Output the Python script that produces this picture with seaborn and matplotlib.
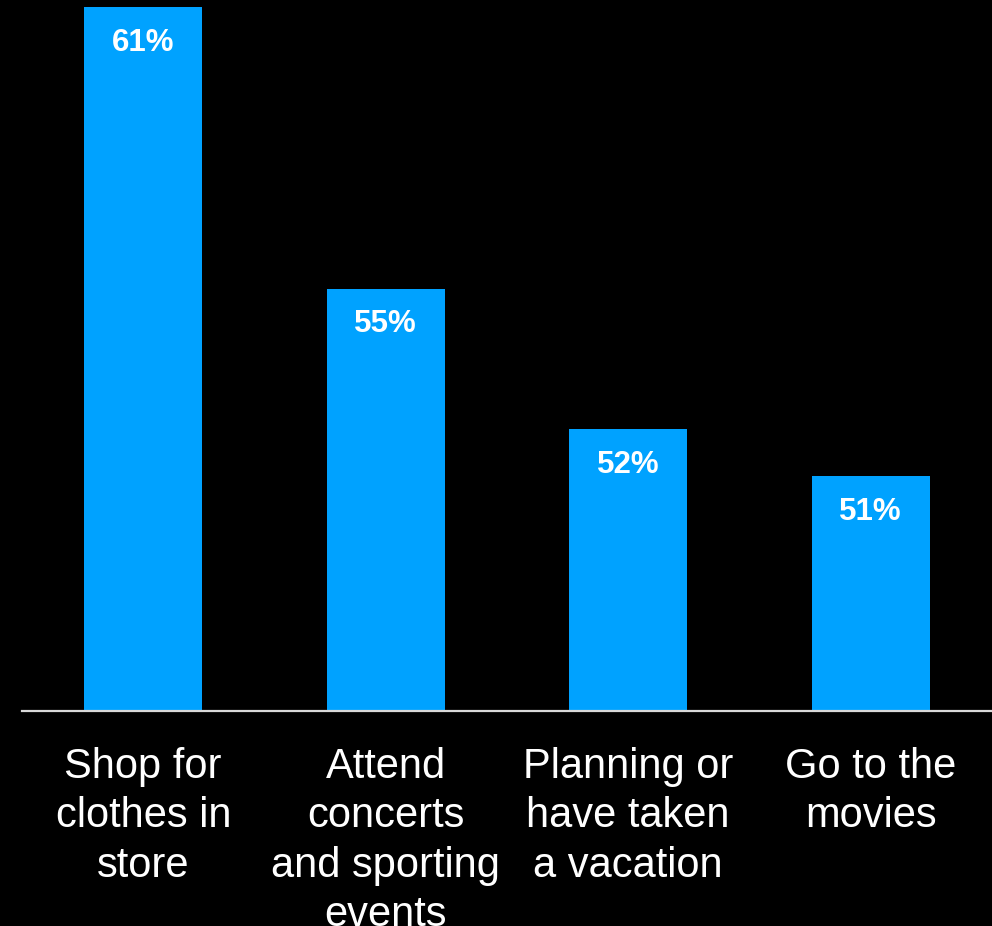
import matplotlib
matplotlib.use("Agg")
import matplotlib.pyplot as plt
import seaborn as sns
import pandas as pd

categories = [
    "Shop for\nclothes in\nstore",
    "Attend\nconcerts\nand sporting\nevents",
    "Planning or\nhave taken\na vacation",
    "Go to the\nmovies",
]
values = [61, 55, 52, 51]
value_labels = ["61%", "55%", "52%", "51%"]

df = pd.DataFrame({"activity": categories, "share": values})

sns.set_theme(style="white")
plt.rcParams["font.family"] = ["Liberation Sans", "DejaVu Sans"]

fig = plt.figure(figsize=(9.92, 9.26), dpi=100, facecolor="black")
ax = fig.add_axes([22 / 992, 215 / 926, 970 / 992, 711 / 926])
ax.set_facecolor("black")

sns.barplot(data=df, x="activity", y="share", color="#00A2FF", saturation=1,
            width=0.487, ax=ax, edgecolor="none")

ax.set_xlim(-0.5, 3.5)
ax.set_ylim(46, 61.15)

for i, (v, lab) in enumerate(zip(values, value_labels)):
    ax.text(i, v - 0.76, lab, ha="center", va="center", color="white",
            fontsize=22.5, fontweight="bold")

for s in ["top", "right", "left"]:
    ax.spines[s].set_visible(False)
ax.spines["bottom"].set_color("#d9d9d9")
ax.spines["bottom"].set_linewidth(1.6)

ax.set_yticks([])
ax.set_xlabel("")
ax.set_ylabel("")
ax.tick_params(axis="x", length=0, pad=26, labelsize=30, colors="white")
for t in ax.get_xticklabels():
    t.set_linespacing(1.30)
    t.set_horizontalalignment("center")
    t.set_multialignment("center")

fig.savefig("out.png", dpi=100, facecolor="black")
